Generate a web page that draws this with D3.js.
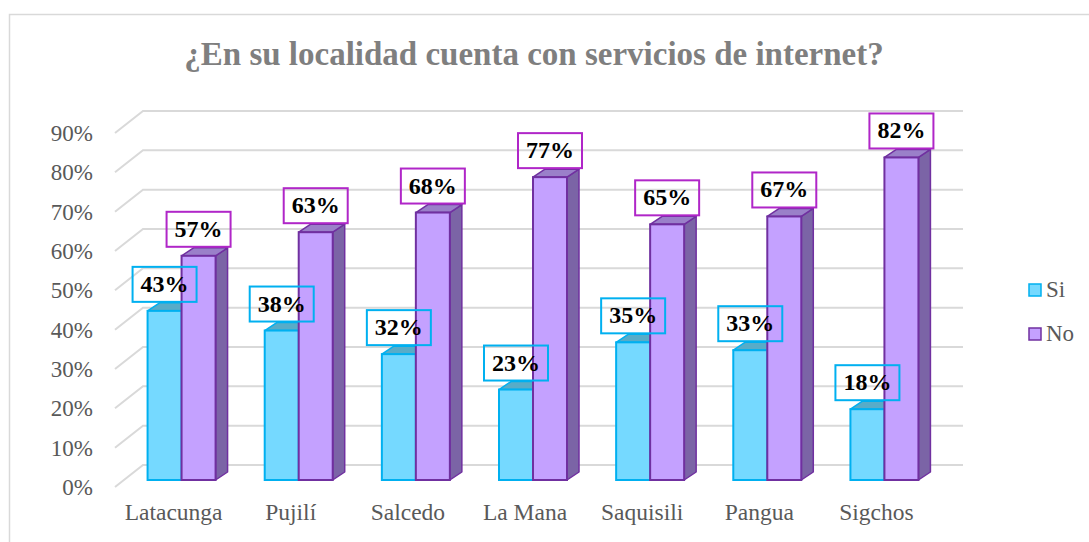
<!DOCTYPE html>
<html>
<head>
<meta charset="utf-8">
<script src="https://cdn.jsdelivr.net/npm/d3@7"></script>
<style>
body { margin: 0; background: #fff; }
svg { display: block; font-family: "Liberation Serif", "Times New Roman", serif; }
</style>
</head>
<body>
<div></div>
<script>
var width = 1089;
var height = 542;

var categories = ["Latacunga", "Pujilí", "Salcedo", "La Mana", "Saquisili", "Pangua", "Sigchos"];
var siValues = [0.43, 0.38, 0.32, 0.23, 0.35, 0.33, 0.18];
var noValues = [0.57, 0.63, 0.68, 0.77, 0.65, 0.67, 0.82];
var yTicks = [0, 0.1, 0.2, 0.3, 0.4, 0.5, 0.6, 0.7, 0.8, 0.9];
var seriesNames = ["Si", "No"];

var svg = d3.select("div")
	.append("svg")
	.attr("width", width)
	.attr("height", height);

// chart frame
svg.append("rect")
	.attr("x", 9.5)
	.attr("y", 14.5)
	.attr("width", 1090)
	.attr("height", 540)
	.attr("fill", "#fff")
	.attr("stroke", "#d9d9d9")
	.attr("stroke-width", 1.5);

svg.append("text")
	.attr("x", 534)
	.attr("y", 65)
	.attr("text-anchor", "middle")
	.attr("font-size", 33)
	.attr("font-weight", "bold")
	.attr("fill", "#7f7f7f")
	.text("¿En su localidad cuenta con servicios de internet?");

// 3d floor geometry: front edge, back wall offset
var floorDx = 28, floorDy = -22;
var barShiftX = 8, barShiftY = -7;
var depthX = 12, depthY = -8;

var x = d3.scaleBand()
	.domain(categories)
	.range([115, 935]);

// front axis scale (left labels)
var y = d3.scaleLinear()
	.domain([0, 0.9])
	.range([487, 133]);

// gridlines: diagonal on floor side + back wall line
var grid = svg.append("g");
yTicks.forEach(t => {
	var yf = y(t);
	grid.append("path")
		.attr("d", "M115," + yf + "L" + (115 + floorDx) + "," + (yf + floorDy) + "L" + (935 + floorDx) + "," + (yf + floorDy))
		.attr("fill", "none")
		.attr("stroke", "#d9d9d9")
		.attr("stroke-width", 2);
});

var yAxis = svg.append("g")
	.attr("transform", "translate(93,0)")
	.call(d3.axisLeft(y).tickValues(yTicks).tickSize(0).tickPadding(0).tickFormat(d3.format(".0%")));
yAxis.select(".domain").remove();
yAxis.selectAll("text")
	.attr("font-size", 23)
	.attr("font-family", "Liberation Serif, serif")
	.attr("fill", "#595959");

var xAxis = svg.append("g")
	.attr("transform", "translate(0,499)")
	.call(d3.axisBottom(x).tickSize(0).tickPadding(0));
xAxis.select(".domain").remove();
xAxis.selectAll("text")
	.attr("dy", "0.9em")
	.attr("font-size", 23.5)
	.attr("font-family", "Liberation Serif, serif")
	.attr("fill", "#595959");

var styles = {
	Si: { front: "#75d9ff", side: "#3f9cc0", top: "#58acc8", stroke: "#00b0f0", label: "#00b0f0" },
	No: { front: "#c4a1ff", side: "#7b64a6", top: "#9a80c9", stroke: "#7030a0", label: "#b026c8" }
};

var barW = 34;

function drawBar(g, x0, value, s) {
	var yb = y(0) + barShiftY;
	var yt = y(value) + barShiftY;
	var x1 = x0 + barW;
	// side
	g.append("path")
		.attr("d", "M" + x1 + "," + yt + "L" + (x1 + depthX) + "," + (yt + depthY) + "L" + (x1 + depthX) + "," + (yb + depthY) + "L" + x1 + "," + yb + "Z")
		.attr("fill", s.side)
		.attr("stroke", s.stroke)
		.attr("stroke-width", 1.5)
		.attr("stroke-linejoin", "round");
	// top
	g.append("path")
		.attr("d", "M" + x0 + "," + yt + "L" + (x0 + depthX) + "," + (yt + depthY) + "L" + (x1 + depthX) + "," + (yt + depthY) + "L" + x1 + "," + yt + "Z")
		.attr("fill", s.top)
		.attr("stroke", s.stroke)
		.attr("stroke-width", 1.5)
		.attr("stroke-linejoin", "round");
	// front
	g.append("rect")
		.attr("x", x0)
		.attr("y", yt)
		.attr("width", barW)
		.attr("height", yb - yt)
		.attr("fill", s.front)
		.attr("stroke", s.stroke)
		.attr("stroke-width", 2);
}

var bars = svg.append("g");
var labels = [];
categories.forEach((c, i) => {
	var center = x(c) + x.bandwidth() / 2 + barShiftX;
	drawBar(bars, center - barW, siValues[i], styles.Si);
	drawBar(bars, center, noValues[i], styles.No);
	labels.push({ cx: center - barW / 2, v: siValues[i], s: styles.Si });
	labels.push({ cx: center + barW / 2, v: noValues[i], s: styles.No });
});

var labelG = svg.append("g");
labels.forEach(d => {
	var yt = y(d.v) + barShiftY + depthY - 1;
	labelG.append("rect")
		.attr("x", d.cx - 32)
		.attr("y", yt - 35)
		.attr("width", 64)
		.attr("height", 35)
		.attr("fill", "none")
		.attr("stroke", d.s.label)
		.attr("stroke-width", 2);
	labelG.append("text")
		.attr("x", d.cx)
		.attr("y", yt - 10)
		.attr("text-anchor", "middle")
		.attr("font-size", 24)
		.attr("font-weight", "bold")
		.attr("fill", "#000")
		.text(d3.format(".0%")(d.v));
});

var legend = svg.append("g");
seriesNames.forEach((n, i) => {
	var ly = 284 + i * 44;
	legend.append("rect")
		.attr("x", 1029)
		.attr("y", ly)
		.attr("width", 12)
		.attr("height", 12)
		.attr("fill", styles[n].front)
		.attr("stroke", styles[n].stroke)
		.attr("stroke-width", 1.5);
	legend.append("text")
		.attr("x", 1046)
		.attr("y", ly + 13)
		.attr("font-size", 23)
		.attr("fill", "#595959")
		.text(n);
});
</script>
</body>
</html>
